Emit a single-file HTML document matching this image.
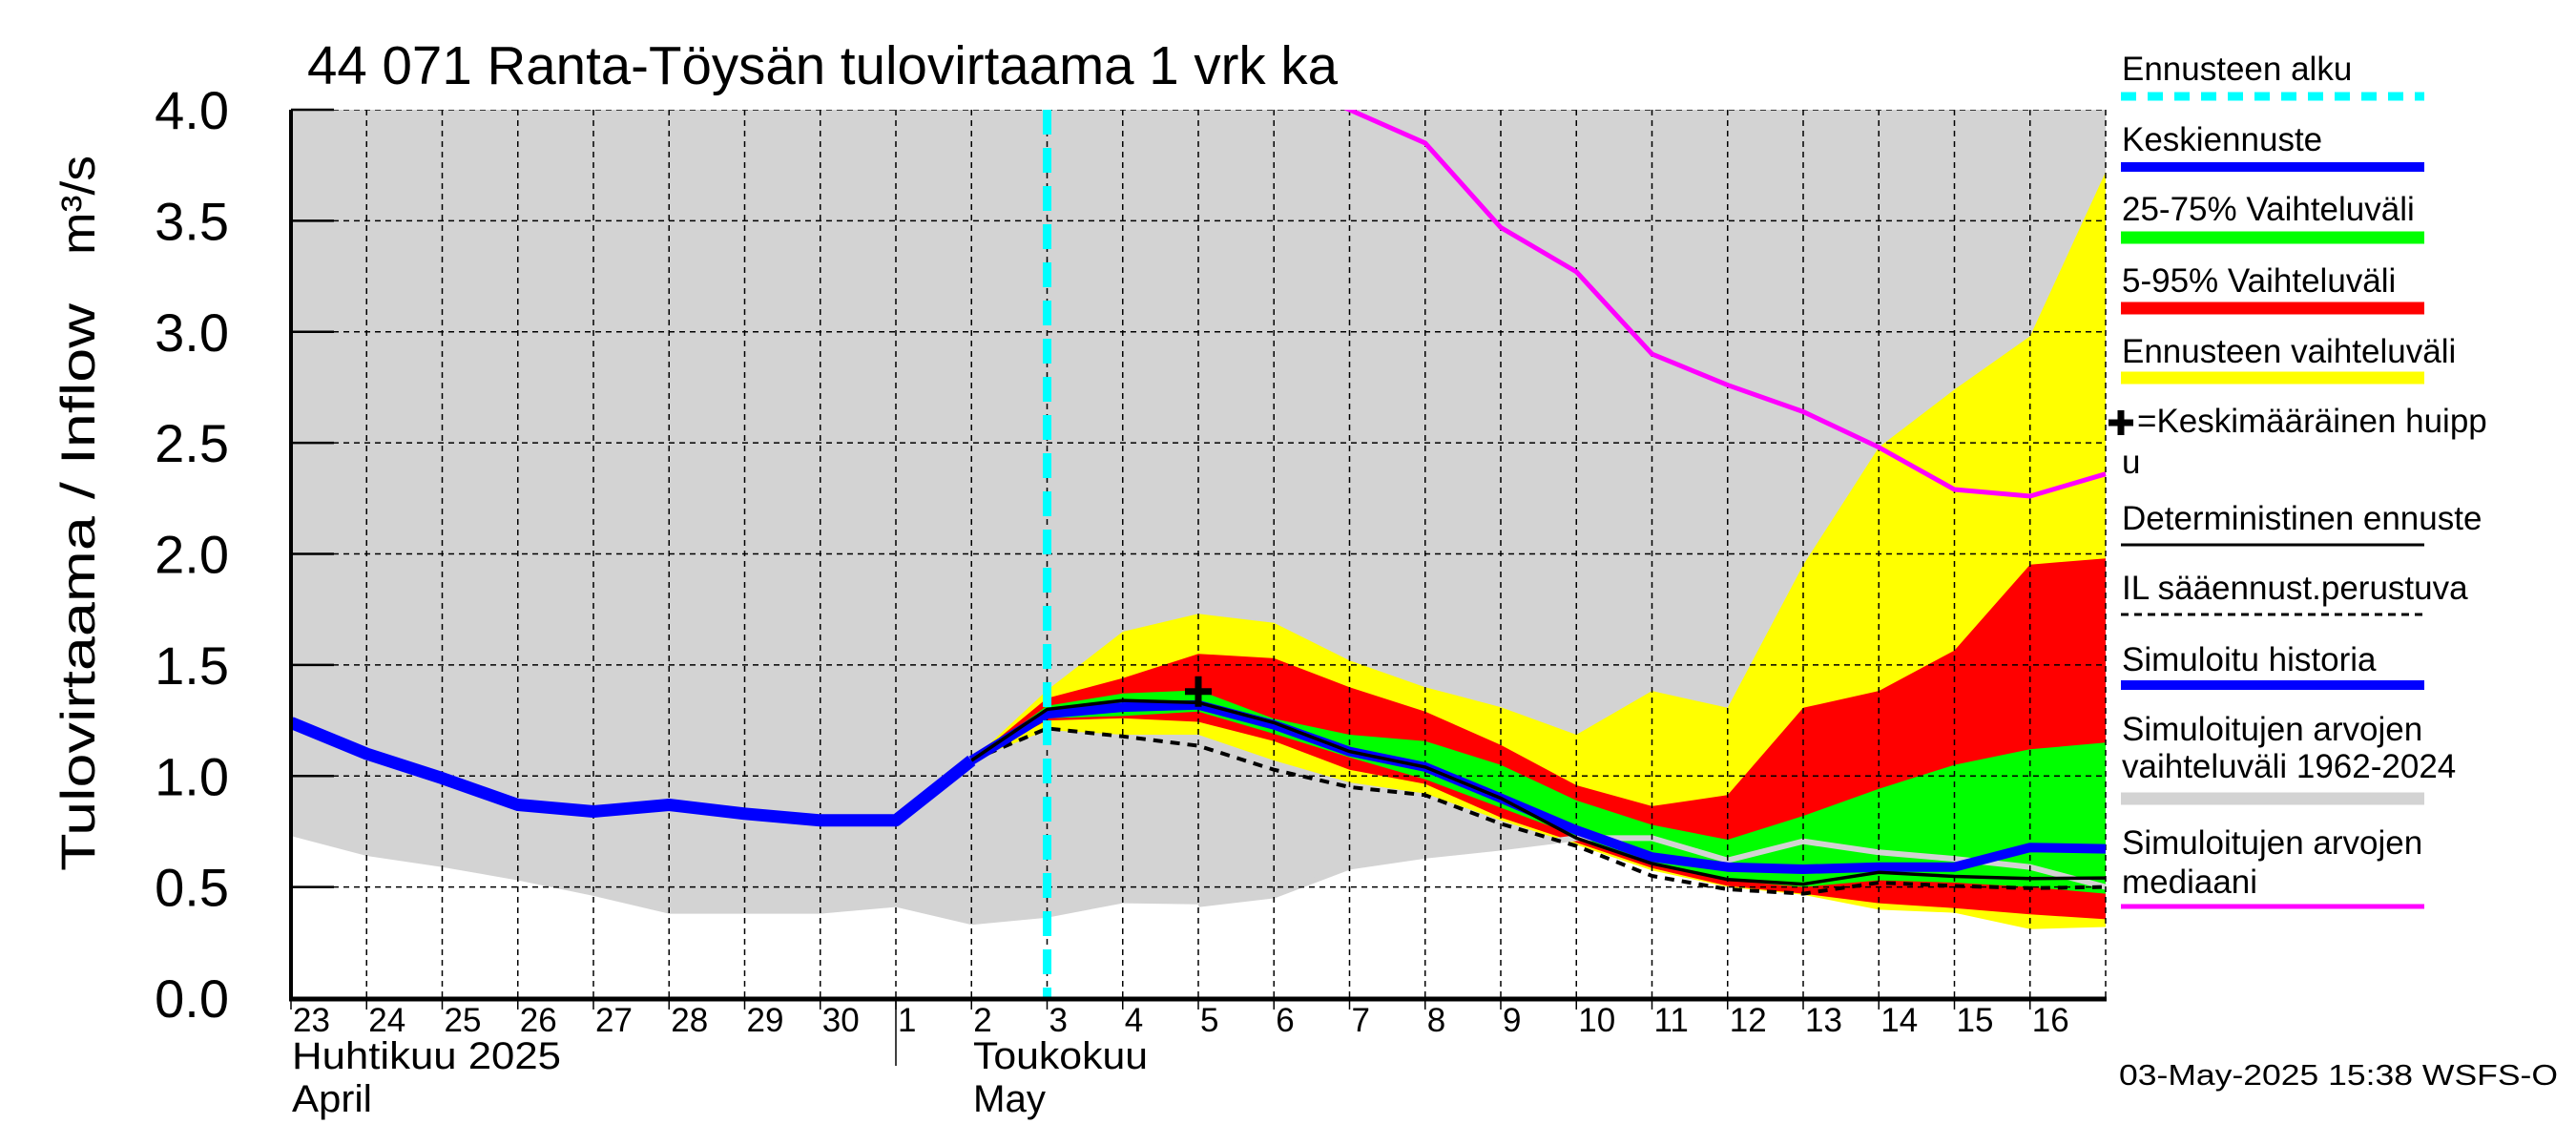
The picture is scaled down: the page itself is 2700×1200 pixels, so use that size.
<!DOCTYPE html>
<html><head><meta charset="utf-8">
<style>
html,body{margin:0;padding:0;background:#fff;}
svg{display:block;font-family:"Liberation Sans",Arial,sans-serif;}
</style></head>
<body>
<svg id="chart" width="2700" height="1200" viewBox="0 0 2700 1200" xmlns="http://www.w3.org/2000/svg">
<defs><clipPath id="plotclip"><rect x="305" y="115" width="1903" height="931"/></clipPath></defs>
<rect width="2700" height="1200" fill="#fff"/>
<g id="plot" clip-path="url(#plotclip)"></g>
<g id="axes"></g>
<g id="legend"></g>
</svg>
<script>
// ---- data ----
const dayLabels = ["23","24","25","26","27","28","29","30","1","2","3","4","5","6","7","8","9","10","11","12","13","14","15","16"];
const yTicks = [0,0.5,1,1.5,2,2.5,3,3.5,4];
const yTickLabels = ["0.0","0.5","1.0","1.5","2.0","2.5","3.0","3.5","4.0"];
const histIdx0 = 0;
const history = [1.24,1.10,0.99,0.87,0.84,0.87,0.83,0.80,0.80,1.07];
const grayLow = [0.73,0.64,0.59,0.53,0.46,0.38,0.38,0.38,0.41,0.33,0.362,0.427,0.422,0.462,0.591,0.641,0.677,0.72,0.72,0.62,0.706,0.656,0.627,0.59,0.50];
const grayHigh = [4.3,4.3,4.3,4.3,4.3,4.3,4.3,4.3,4.3,4.3,4.3,4.3,4.3,4.3,4.3,4.3,4.3,4.3,4.3,4.3,4.3,4.3,4.3,4.3,4.3];
const fcIdx0 = 9;
const yellowTop = [1.07,1.386,1.65,1.73,1.69,1.52,1.40,1.31,1.186,1.383,1.307,1.95,2.48,2.74,2.98,3.72];
const redTop = [1.07,1.35,1.44,1.55,1.53,1.40,1.29,1.14,0.958,0.864,0.914,1.307,1.383,1.565,1.952,1.98];
const greenTop = [1.07,1.316,1.372,1.386,1.258,1.186,1.157,1.05,0.89,0.78,0.713,0.82,0.942,1.05,1.12,1.15];
const greenBot = [1.07,1.26,1.27,1.29,1.19,1.084,0.985,0.857,0.73,0.60,0.53,0.50,0.53,0.52,0.50,0.47];
const redBot = [1.07,1.25,1.26,1.244,1.157,1.028,0.964,0.813,0.70,0.585,0.505,0.47,0.427,0.405,0.377,0.355];
const yellowBot = [1.07,1.207,1.186,1.186,1.07,0.971,0.921,0.80,0.69,0.575,0.50,0.465,0.398,0.384,0.31,0.32];
const ilForecast = [1.07,1.214,1.178,1.136,1.028,0.95,0.914,0.785,0.685,0.55,0.49,0.47,0.52,0.505,0.495,0.50];
const deterministic = [1.07,1.30,1.34,1.33,1.24,1.11,1.04,0.90,0.72,0.606,0.534,0.513,0.566,0.548,0.538,0.541];
const meanForecast = [1.07,1.28,1.31,1.32,1.23,1.11,1.04,0.90,0.756,0.635,0.59,0.58,0.59,0.59,0.678,0.672];
const medIdx0 = 13;
const median = [4.15,4.0,3.85,3.47,3.27,2.90,2.76,2.64,2.48,2.29,2.26,2.36];
const forecastStartIdx = 10;
const peakIdx = 12;
const peakValue = 1.38;

// ---- scales ----
const X0=305, DX=79.25, Y0=1046, YS=232.75;
function xs(i){return X0+i*DX;}
function ys(v){return Y0-v*YS;}
const NS="http://www.w3.org/2000/svg";
function mk(tag,attrs,parent){const e=document.createElementNS(NS,tag);for(const k in attrs)e.setAttribute(k,attrs[k]);parent.appendChild(e);return e;}
function pts(arr,i0){return arr.map((v,k)=>xs(i0+k).toFixed(1)+","+ys(v).toFixed(1)).join(" ");}
function band(top,bot,i0){const a=top.map((v,k)=>xs(i0+k).toFixed(1)+","+ys(v).toFixed(1));const b=bot.map((v,k)=>xs(i0+k).toFixed(1)+","+ys(v).toFixed(1)).reverse();return a.concat(b).join(" ");}
const plot=document.getElementById('plot'), axes=document.getElementById('axes'), legend=document.getElementById('legend');

let e=mk('polygon',{points:band(grayHigh,grayLow,0),fill:'#d3d3d3'},plot);


e=mk('polygon',{points:band(yellowTop,yellowBot,fcIdx0),fill:'#ffff00'},plot);


e=mk('polygon',{points:band(redTop,redBot,fcIdx0),fill:'#ff0000'},plot);


e=mk('polygon',{points:band(greenTop,greenBot,fcIdx0),fill:'#00ff00'},plot);


e=mk('polyline',{points:pts(grayLow.slice(fcIdx0+3),fcIdx0+3),fill:'none',stroke:'#d3d3d3','stroke-width':6},plot);



for(let i=1;i<=24;i++){
  e=mk('line',{x1:xs(i),x2:xs(i),y1:115,y2:1046,stroke:'#000','stroke-width':1.5,'stroke-dasharray':'6,5'},plot);
  
  
}
for(let j=1;j<yTicks.length;j++){
  e=mk('line',{x1:305,x2:2208,y1:ys(yTicks[j]),y2:ys(yTicks[j]),stroke:'#000','stroke-width':1.5,'stroke-dasharray':'6,5'},plot);
  
  
}

e=mk('polyline',{points:pts(median,medIdx0),fill:'none',stroke:'#ff00ff','stroke-width':5},plot);


e=mk('polyline',{points:pts(ilForecast,fcIdx0),fill:'none',stroke:'#000','stroke-width':4,'stroke-dasharray':'10,8'},plot);


e=mk('polyline',{points:pts(history,histIdx0),fill:'none',stroke:'#0000ff','stroke-width':13,'stroke-linejoin':'round'},plot);


e=mk('polyline',{points:pts(meanForecast,fcIdx0),fill:'none',stroke:'#0000ff','stroke-width':10,'stroke-linejoin':'round'},plot);


e=mk('polyline',{points:pts(deterministic,fcIdx0),fill:'none',stroke:'#000','stroke-width':3.5},plot);


e=mk('line',{x1:xs(forecastStartIdx),x2:xs(forecastStartIdx),y1:115,y2:1046,stroke:'#00ffff','stroke-width':9,'stroke-dasharray':'26,14'},plot);


e=mk('path',{d:`M${xs(peakIdx)-14},${ys(peakValue)} h28 M${xs(peakIdx)},${ys(peakValue)-16} v32`,stroke:'#000','stroke-width':7,fill:'none'},plot);



e=mk('line',{x1:305,x2:305,y1:115,y2:1048,stroke:'#000','stroke-width':4},axes);


e=mk('line',{x1:303,x2:2208,y1:1047,y2:1047,stroke:'#000','stroke-width':5},axes);


for(let j=0;j<yTicks.length;j++){
  const y=ys(yTicks[j]);
  e=mk('line',{x1:305,x2:350,y1:y,y2:y,stroke:'#000','stroke-width':2.5},axes);
  
  
  e=mk('text',{x:240,y:y+20,'font-size':56,'text-anchor':'end',fill:'#000'},axes);
  e.textContent=yTickLabels[j];
  
  
}
for(let i=0;i<dayLabels.length;i++){
  e=mk('line',{x1:xs(i),x2:xs(i),y1:1046,y2:1058,stroke:'#000','stroke-width':1.5},axes);
  
  
  e=mk('text',{x:xs(i)+2,y:1081,'font-size':35,fill:'#000'},axes);
  e.textContent=dayLabels[i];
  
  
}
e=mk('line',{x1:xs(8),x2:xs(8),y1:1046,y2:1117,stroke:'#000','stroke-width':1.5},axes);


</script>
<svg style="position:absolute;left:0;top:0" width="2700" height="1200" xmlns="http://www.w3.org/2000/svg">
<g font-family="Liberation Sans, Arial, sans-serif" fill="#000">
<text x="322" y="88" font-size="57" textLength="1080" lengthAdjust="spacingAndGlyphs">44 071 Ranta-Töysän tulovirtaama 1 vrk ka</text>
<text transform="translate(99,913) rotate(-90)" font-size="50" textLength="595" lengthAdjust="spacingAndGlyphs">Tulovirtaama / Inflow</text>
<text transform="translate(99,267) rotate(-90)" font-size="50" textLength="104" lengthAdjust="spacingAndGlyphs">m³/s</text>
<text x="306" y="1120" font-size="40" textLength="282" lengthAdjust="spacingAndGlyphs">Huhtikuu  2025</text>
<text x="306" y="1165" font-size="40" textLength="84" lengthAdjust="spacingAndGlyphs">April</text>
<text x="1020" y="1120" font-size="40" textLength="183" lengthAdjust="spacingAndGlyphs">Toukokuu</text>
<text x="1020" y="1165" font-size="40" textLength="76" lengthAdjust="spacingAndGlyphs">May</text>
<text x="2221" y="1137" font-size="31" textLength="460" lengthAdjust="spacingAndGlyphs">03-May-2025 15:38 WSFS-O</text>
<g font-size="35">
<text x="2224" y="84">Ennusteen alku</text>
<line x1="2223" x2="2541" y1="101" y2="101" stroke="#00ffff" stroke-width="9" stroke-dasharray="16,12"/>
<text x="2224" y="158">Keskiennuste</text>
<line x1="2223" x2="2541" y1="175" y2="175" stroke="#0000ff" stroke-width="10"/>
<text x="2224" y="231">25-75% Vaihteluväli</text>
<line x1="2223" x2="2541" y1="249" y2="249" stroke="#00ff00" stroke-width="13"/>
<text x="2224" y="306">5-95% Vaihteluväli</text>
<line x1="2223" x2="2541" y1="323" y2="323" stroke="#ff0000" stroke-width="13"/>
<text x="2224" y="380">Ennusteen vaihteluväli</text>
<line x1="2223" x2="2541" y1="396" y2="396" stroke="#ffff00" stroke-width="13"/>
<path d="M2210,443 h26 M2223,430 v26" stroke="#000" stroke-width="7"/>
<text x="2240" y="453">=Keskimääräinen huipp</text>
<text x="2224" y="496">u</text>
<text x="2224" y="555">Deterministinen ennuste</text>
<line x1="2223" x2="2541" y1="571" y2="571" stroke="#000" stroke-width="3"/>
<text x="2224" y="628">IL sääennust.perustuva</text>
<line x1="2223" x2="2541" y1="644" y2="644" stroke="#000" stroke-width="3" stroke-dasharray="8,6"/>
<text x="2224" y="703">Simuloitu historia</text>
<line x1="2223" x2="2541" y1="718" y2="718" stroke="#0000ff" stroke-width="10"/>
<text x="2224" y="776">Simuloitujen arvojen</text>
<text x="2224" y="815">vaihteluväli 1962-2024</text>
<line x1="2223" x2="2541" y1="837" y2="837" stroke="#d3d3d3" stroke-width="13"/>
<text x="2224" y="895">Simuloitujen arvojen</text>
<text x="2224" y="936">mediaani</text>
<line x1="2223" x2="2541" y1="950" y2="950" stroke="#ff00ff" stroke-width="5"/>
</g>
</g>
</svg>
</body></html>
